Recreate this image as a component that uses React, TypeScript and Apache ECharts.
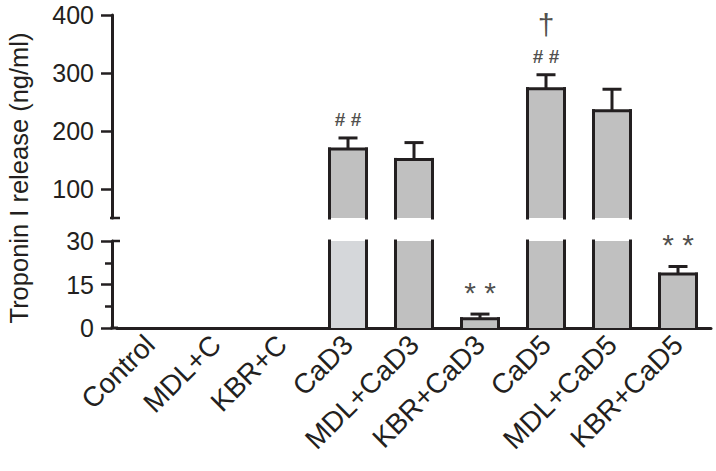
import React, { useEffect, useRef } from 'react';
import * as echarts from 'echarts';

const categories = ['Control', 'MDL+C', 'KBR+C', 'CaD3', 'MDL+CaD3', 'KBR+CaD3', 'CaD5', 'MDL+CaD5', 'KBR+CaD5'];
const means = [0, 0, 0, 169, 151, 3.2, 273, 235, 18.6];
const errors = [0, 0, 0, 19, 29, 1.6, 24, 37, 2.6];
const hashMarks = ['', '', '', '# #', '', '', '# #', '', ''];
const daggerMarks = ['', '', '', '', '', '', '†', '', ''];
const starMarks = ['', '', '', '', '', '* *', '', '', '* *'];
const upperTicks = [100, 200, 300, 400];
const upperRange = [50, 400];
const lowerRange = [0, 30];
const lowerInterval = 15;

const INK = '#231f20';
const GREY = '#c0c0c0';
const LIGHT = '#d5d7da';
const FONT = 'Liberation Sans';
const GL = 117, GR = 5, UT = 15, UH = 203, LT = 241, LH = 87;
const BAR_W = 37;

function outlineRender(lo: number, hi: number) {
  return (params: any, api: any) => {
    const idx = api.value(0);
    const m = api.value(1);
    const e = api.value(2);
    const cs = params.coordSys;
    if (m <= lo) return null;
    const yTop = Math.max(api.coord([idx, Math.min(m, hi)])[1], cs.y);
    const yBot = cs.y + cs.height;
    const cx = api.coord([idx, m])[0];
    const half = BAR_W / 2;
    const ls = { stroke: INK, lineWidth: 3, lineCap: 'square' };
    const children: any[] = [
      { type: 'line', shape: { x1: cx - half, y1: yTop, x2: cx - half, y2: yBot }, style: ls },
      { type: 'line', shape: { x1: cx + half, y1: yTop, x2: cx + half, y2: yBot }, style: ls },
    ];
    if (m <= hi) {
      children.push({ type: 'line', shape: { x1: cx - half, y1: yTop, x2: cx + half, y2: yTop }, style: ls });
      if (e > 0 && m + e <= hi) {
        const yE = api.coord([idx, m + e])[1];
        const capHalf = 9.5;
        children.push({ type: 'line', shape: { x1: cx, y1: yTop, x2: cx, y2: yE }, style: { stroke: INK, lineWidth: 3 } });
        children.push({ type: 'line', shape: { x1: cx - capHalf, y1: yE, x2: cx + capHalf, y2: yE }, style: { stroke: INK, lineWidth: 3 } });
      }
    }
    return { type: 'group', children };
  };
}

export default function App() {
  const ref = useRef<HTMLDivElement>(null);
  useEffect(() => {
    document.body.style.margin = '0';
    const chart = echarts.init(ref.current!, undefined, { renderer: 'svg' });
    const triples = categories.map((_, i) => [i, means[i], errors[i]]);
    const marks = (arr: string[], lo: number, hi: number) =>
      categories.map((_, i) => (arr[i] && means[i] > lo && means[i] <= hi ? [i, means[i] + errors[i]] : ['-', '-']));
    const labelFor = (arr: string[]) => (p: any) => arr[p.dataIndex];

    chart.setOption({
      animation: false,
      grid: [
        { left: GL, right: GR, top: UT, height: UH },
        { left: GL, right: GR, top: LT, height: LH },
      ],
      xAxis: [
        { type: 'category', data: categories, gridIndex: 0, show: false },
        {
          type: 'category', data: categories, gridIndex: 1,
          axisLine: { lineStyle: { color: INK, width: 3 } },
          axisTick: { show: false },
          axisLabel: { rotate: 45, fontSize: 28, color: INK, margin: 12, fontFamily: FONT, interval: 0 },
        },
      ],
      yAxis: [
        {
          type: 'value', gridIndex: 0, min: upperRange[0], max: upperRange[1], offset: 5,
          splitLine: { show: false },
          axisLine: { show: true, lineStyle: { color: INK, width: 3 } },
          axisTick: { show: true, length: 11, customValues: upperTicks, lineStyle: { color: INK, width: 2.5 } },
          axisLabel: { customValues: upperTicks, fontSize: 25, color: INK, margin: 18, fontFamily: FONT },
        },
        {
          type: 'value', gridIndex: 1, min: lowerRange[0], max: lowerRange[1], interval: lowerInterval, offset: 5,
          splitLine: { show: false },
          axisLine: { show: true, lineStyle: { color: INK, width: 3 } },
          axisTick: { show: true, length: 11, lineStyle: { color: INK, width: 2.5 } },
          minorTick: { show: true, splitNumber: 2, length: 7, lineStyle: { color: INK, width: 2.5 } },
          axisLabel: { fontSize: 25, color: INK, margin: 18, fontFamily: FONT },
        },
      ],
      series: [
        {
          type: 'bar', xAxisIndex: 0, yAxisIndex: 0, data: means, barWidth: BAR_W,
          itemStyle: { color: GREY, borderWidth: 0 },
        },
        {
          type: 'bar', xAxisIndex: 1, yAxisIndex: 1, data: means, barWidth: BAR_W,
          itemStyle: { color: (p: any) => (p.dataIndex === 3 ? LIGHT : GREY), borderWidth: 0 },
        },
        {
          type: 'custom', xAxisIndex: 0, yAxisIndex: 0, data: triples,
          encode: { x: 0, y: 1 }, renderItem: outlineRender(upperRange[0], upperRange[1]), z: 5,
        },
        {
          type: 'custom', xAxisIndex: 1, yAxisIndex: 1, data: triples,
          encode: { x: 0, y: 1 }, renderItem: outlineRender(lowerRange[0], lowerRange[1]), z: 5,
        },
        {
          type: 'scatter', xAxisIndex: 0, yAxisIndex: 0, symbolSize: 0, data: marks(hashMarks, upperRange[0], upperRange[1]),
          label: { show: true, position: 'top', distance: 9, formatter: labelFor(hashMarks), fontSize: 19, fontWeight: 'bold', color: INK, fontFamily: FONT },
        },
        {
          type: 'scatter', xAxisIndex: 0, yAxisIndex: 0, symbolSize: 0, data: marks(daggerMarks, upperRange[0], upperRange[1]),
          label: { show: true, position: 'top', distance: 35, formatter: labelFor(daggerMarks), fontSize: 30, color: INK, fontFamily: FONT },
        },
        {
          type: 'scatter', xAxisIndex: 1, yAxisIndex: 1, symbolSize: 0, data: marks(starMarks, lowerRange[0], lowerRange[1]),
          label: { show: true, position: 'top', distance: 7, formatter: labelFor(starMarks), fontSize: 30, color: INK, fontFamily: FONT },
        },
      ],
      graphic: [
        {
          type: 'text', x: 19, y: 178, rotation: Math.PI / 2,
          style: { text: 'Troponin I release (ng/ml)', fontSize: 25.5, fill: INK, fontFamily: FONT, align: 'center', verticalAlign: 'middle' },
        },
        { type: 'line', shape: { x1: 110, y1: UT + UH, x2: 120, y2: UT + UH }, style: { stroke: INK, lineWidth: 2.5 } },
        { type: 'line', shape: { x1: 112, y1: LT, x2: 120, y2: LT }, style: { stroke: INK, lineWidth: 2.5 } },
        { type: 'line', shape: { x1: 110.5, y1: LT + LH, x2: 118, y2: LT + LH }, style: { stroke: INK, lineWidth: 3 } },
      ],
    });
    return () => chart.dispose();
  }, []);
  return <div ref={ref} style={{ position: 'fixed', left: 0, top: 0, width: 716, height: 471, background: '#fff' }} />;
}
